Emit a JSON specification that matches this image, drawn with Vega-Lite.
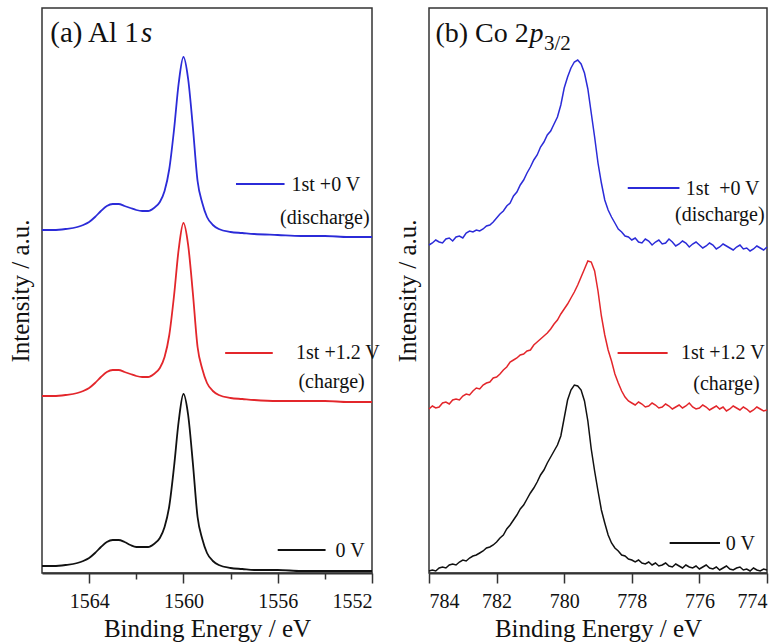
{
  "$schema": "https://vega.github.io/schema/vega-lite/v6.json",
  "padding": {"left": 7, "top": 7, "right": 2, "bottom": 2},
  "background": "white",
  "config": {
    "font": "Liberation Serif",
    "view": {"stroke": "#333333", "strokeWidth": 1.5},
    "axis": {
      "labelFont": "Liberation Serif", "titleFont": "Liberation Serif",
      "labelFontSize": 20, "titleFontSize": 25, "titleFontWeight": "normal",
      "labelColor": "#111111", "titleColor": "#111111",
      "tickColor": "#333333", "domainColor": "#333333",
      "tickWidth": 1.5, "domainWidth": 2, "grid": false
    }
  },
  "spacing": 57,
  "bounds": "flush",
  "datasets": {
    "al": [
      {"s":"b","e":1566.0,"v":343},{"s":"b","e":1565.5,"v":343},{"s":"b","e":1565.0,"v":344},{"s":"b","e":1564.5,"v":346},{"s":"b","e":1564.25,"v":348},{"s":"b","e":1564.0,"v":351},{"s":"b","e":1563.75,"v":356},{"s":"b","e":1563.5,"v":362},{"s":"b","e":1563.25,"v":367},{"s":"b","e":1563.0,"v":369},{"s":"b","e":1562.75,"v":369},{"s":"b","e":1562.5,"v":367},{"s":"b","e":1562.25,"v":365},{"s":"b","e":1562.0,"v":363},{"s":"b","e":1561.75,"v":362},{"s":"b","e":1561.5,"v":362},{"s":"b","e":1561.25,"v":365},{"s":"b","e":1561.0,"v":371},{"s":"b","e":1560.8,"v":382},{"s":"b","e":1560.6,"v":404},{"s":"b","e":1560.4,"v":443},{"s":"b","e":1560.2,"v":490},{"s":"b","e":1560.0,"v":516},{"s":"b","e":1559.8,"v":494},{"s":"b","e":1559.6,"v":446},{"s":"b","e":1559.4,"v":392},{"s":"b","e":1559.2,"v":370},{"s":"b","e":1559.0,"v":356},{"s":"b","e":1558.75,"v":348},{"s":"b","e":1558.5,"v":344},{"s":"b","e":1558.0,"v":341},{"s":"b","e":1557.5,"v":340},{"s":"b","e":1557.0,"v":339},{"s":"b","e":1556.0,"v":338},{"s":"b","e":1555.0,"v":337},{"s":"b","e":1554.0,"v":337},{"s":"b","e":1553.0,"v":336},{"s":"b","e":1552.0,"v":336},
      {"s":"r","e":1566.0,"v":177},{"s":"r","e":1565.5,"v":177},{"s":"r","e":1565.0,"v":178},{"s":"r","e":1564.5,"v":180},{"s":"r","e":1564.25,"v":182},{"s":"r","e":1564.0,"v":185},{"s":"r","e":1563.75,"v":190},{"s":"r","e":1563.5,"v":196},{"s":"r","e":1563.25,"v":201},{"s":"r","e":1563.0,"v":203},{"s":"r","e":1562.75,"v":203},{"s":"r","e":1562.5,"v":201},{"s":"r","e":1562.25,"v":199},{"s":"r","e":1562.0,"v":197},{"s":"r","e":1561.75,"v":196},{"s":"r","e":1561.5,"v":196},{"s":"r","e":1561.25,"v":199},{"s":"r","e":1561.0,"v":205},{"s":"r","e":1560.8,"v":216},{"s":"r","e":1560.6,"v":238},{"s":"r","e":1560.4,"v":277},{"s":"r","e":1560.2,"v":324},{"s":"r","e":1560.0,"v":350},{"s":"r","e":1559.8,"v":328},{"s":"r","e":1559.6,"v":280},{"s":"r","e":1559.4,"v":226},{"s":"r","e":1559.2,"v":204},{"s":"r","e":1559.0,"v":190},{"s":"r","e":1558.75,"v":182},{"s":"r","e":1558.5,"v":178},{"s":"r","e":1558.0,"v":175},{"s":"r","e":1557.5,"v":174},{"s":"r","e":1557.0,"v":173},{"s":"r","e":1556.0,"v":172},{"s":"r","e":1555.0,"v":172},{"s":"r","e":1554.0,"v":172},{"s":"r","e":1553.0,"v":171},{"s":"r","e":1552.0,"v":171},
      {"s":"k","e":1566.0,"v":7},{"s":"k","e":1565.5,"v":7},{"s":"k","e":1565.0,"v":8},{"s":"k","e":1564.5,"v":10},{"s":"k","e":1564.25,"v":12},{"s":"k","e":1564.0,"v":15},{"s":"k","e":1563.75,"v":20},{"s":"k","e":1563.5,"v":26},{"s":"k","e":1563.25,"v":31},{"s":"k","e":1563.0,"v":33},{"s":"k","e":1562.75,"v":33},{"s":"k","e":1562.5,"v":31},{"s":"k","e":1562.25,"v":28},{"s":"k","e":1562.0,"v":26},{"s":"k","e":1561.75,"v":26},{"s":"k","e":1561.5,"v":26},{"s":"k","e":1561.25,"v":29},{"s":"k","e":1561.0,"v":35},{"s":"k","e":1560.8,"v":46},{"s":"k","e":1560.6,"v":67},{"s":"k","e":1560.4,"v":106},{"s":"k","e":1560.2,"v":152},{"s":"k","e":1560.0,"v":179},{"s":"k","e":1559.8,"v":158},{"s":"k","e":1559.6,"v":110},{"s":"k","e":1559.4,"v":56},{"s":"k","e":1559.2,"v":34},{"s":"k","e":1559.0,"v":20},{"s":"k","e":1558.75,"v":12},{"s":"k","e":1558.5,"v":8},{"s":"k","e":1558.0,"v":5},{"s":"k","e":1557.5,"v":4},{"s":"k","e":1557.0,"v":3},{"s":"k","e":1556.0,"v":3},{"s":"k","e":1555.0,"v":2},{"s":"k","e":1554.0,"v":2},{"s":"k","e":1553.0,"v":2},{"s":"k","e":1552.0,"v":2}
    ],
    "co": [
      {"s":"b","e":784.0,"v":328},{"s":"b","e":783.9,"v":330},{"s":"b","e":783.8,"v":333},{"s":"b","e":783.7,"v":331},{"s":"b","e":783.6,"v":330},{"s":"b","e":783.5,"v":334},{"s":"b","e":783.4,"v":335},{"s":"b","e":783.3,"v":332},{"s":"b","e":783.2,"v":336},{"s":"b","e":783.1,"v":337},{"s":"b","e":783.0,"v":335},{"s":"b","e":782.9,"v":340},{"s":"b","e":782.8,"v":342},{"s":"b","e":782.7,"v":341},{"s":"b","e":782.6,"v":343},{"s":"b","e":782.5,"v":342},{"s":"b","e":782.4,"v":344},{"s":"b","e":782.3,"v":347},{"s":"b","e":782.2,"v":348},{"s":"b","e":782.1,"v":351},{"s":"b","e":782.0,"v":355},{"s":"b","e":781.9,"v":359},{"s":"b","e":781.8,"v":362},{"s":"b","e":781.7,"v":367},{"s":"b","e":781.6,"v":370},{"s":"b","e":781.5,"v":377},{"s":"b","e":781.4,"v":381},{"s":"b","e":781.3,"v":388},{"s":"b","e":781.2,"v":393},{"s":"b","e":781.1,"v":400},{"s":"b","e":781.0,"v":406},{"s":"b","e":780.9,"v":413},{"s":"b","e":780.8,"v":418},{"s":"b","e":780.7,"v":426},{"s":"b","e":780.6,"v":431},{"s":"b","e":780.5,"v":438},{"s":"b","e":780.4,"v":442},{"s":"b","e":780.3,"v":449},{"s":"b","e":780.2,"v":456},{"s":"b","e":780.1,"v":468},{"s":"b","e":780.0,"v":485},{"s":"b","e":779.9,"v":496},{"s":"b","e":779.8,"v":505},{"s":"b","e":779.7,"v":511},{"s":"b","e":779.6,"v":513},{"s":"b","e":779.5,"v":509},{"s":"b","e":779.4,"v":500},{"s":"b","e":779.3,"v":484},{"s":"b","e":779.2,"v":460},{"s":"b","e":779.1,"v":436},{"s":"b","e":779.0,"v":410},{"s":"b","e":778.9,"v":390},{"s":"b","e":778.8,"v":373},{"s":"b","e":778.7,"v":363},{"s":"b","e":778.6,"v":356},{"s":"b","e":778.5,"v":350},{"s":"b","e":778.4,"v":344},{"s":"b","e":778.3,"v":341},{"s":"b","e":778.2,"v":337},{"s":"b","e":778.1,"v":336},{"s":"b","e":778.0,"v":333},{"s":"b","e":777.9,"v":335},{"s":"b","e":777.8,"v":331},{"s":"b","e":777.7,"v":330},{"s":"b","e":777.6,"v":334},{"s":"b","e":777.5,"v":332},{"s":"b","e":777.4,"v":328},{"s":"b","e":777.3,"v":331},{"s":"b","e":777.2,"v":333},{"s":"b","e":777.1,"v":329},{"s":"b","e":777.0,"v":330},{"s":"b","e":776.9,"v":334},{"s":"b","e":776.8,"v":331},{"s":"b","e":776.7,"v":327},{"s":"b","e":776.6,"v":329},{"s":"b","e":776.5,"v":332},{"s":"b","e":776.4,"v":330},{"s":"b","e":776.3,"v":326},{"s":"b","e":776.2,"v":329},{"s":"b","e":776.1,"v":331},{"s":"b","e":776.0,"v":328},{"s":"b","e":775.9,"v":325},{"s":"b","e":775.8,"v":327},{"s":"b","e":775.7,"v":330},{"s":"b","e":775.6,"v":328},{"s":"b","e":775.5,"v":324},{"s":"b","e":775.4,"v":326},{"s":"b","e":775.3,"v":329},{"s":"b","e":775.2,"v":327},{"s":"b","e":775.1,"v":325},{"s":"b","e":775.0,"v":323},{"s":"b","e":774.9,"v":326},{"s":"b","e":774.8,"v":328},{"s":"b","e":774.7,"v":324},{"s":"b","e":774.6,"v":325},{"s":"b","e":774.5,"v":322},{"s":"b","e":774.4,"v":324},{"s":"b","e":774.3,"v":327},{"s":"b","e":774.2,"v":325},{"s":"b","e":774.1,"v":323},{"s":"b","e":774.0,"v":326},
      {"s":"r","e":784.0,"v":164},{"s":"r","e":783.9,"v":167},{"s":"r","e":783.8,"v":165},{"s":"r","e":783.7,"v":166},{"s":"r","e":783.6,"v":170},{"s":"r","e":783.5,"v":171},{"s":"r","e":783.4,"v":169},{"s":"r","e":783.3,"v":173},{"s":"r","e":783.2,"v":174},{"s":"r","e":783.1,"v":173},{"s":"r","e":783.0,"v":177},{"s":"r","e":782.9,"v":179},{"s":"r","e":782.8,"v":178},{"s":"r","e":782.7,"v":182},{"s":"r","e":782.6,"v":185},{"s":"r","e":782.5,"v":184},{"s":"r","e":782.4,"v":188},{"s":"r","e":782.3,"v":190},{"s":"r","e":782.2,"v":191},{"s":"r","e":782.1,"v":195},{"s":"r","e":782.0,"v":196},{"s":"r","e":781.9,"v":199},{"s":"r","e":781.8,"v":203},{"s":"r","e":781.7,"v":206},{"s":"r","e":781.6,"v":211},{"s":"r","e":781.5,"v":213},{"s":"r","e":781.4,"v":215},{"s":"r","e":781.3,"v":218},{"s":"r","e":781.2,"v":219},{"s":"r","e":781.1,"v":222},{"s":"r","e":781.0,"v":223},{"s":"r","e":780.9,"v":228},{"s":"r","e":780.8,"v":231},{"s":"r","e":780.7,"v":234},{"s":"r","e":780.6,"v":237},{"s":"r","e":780.5,"v":240},{"s":"r","e":780.4,"v":244},{"s":"r","e":780.3,"v":249},{"s":"r","e":780.2,"v":253},{"s":"r","e":780.1,"v":259},{"s":"r","e":780.0,"v":264},{"s":"r","e":779.9,"v":269},{"s":"r","e":779.8,"v":275},{"s":"r","e":779.7,"v":281},{"s":"r","e":779.6,"v":288},{"s":"r","e":779.5,"v":296},{"s":"r","e":779.4,"v":304},{"s":"r","e":779.3,"v":312},{"s":"r","e":779.2,"v":311},{"s":"r","e":779.1,"v":302},{"s":"r","e":779.0,"v":282},{"s":"r","e":778.9,"v":257},{"s":"r","e":778.8,"v":238},{"s":"r","e":778.7,"v":223},{"s":"r","e":778.6,"v":212},{"s":"r","e":778.5,"v":199},{"s":"r","e":778.4,"v":190},{"s":"r","e":778.3,"v":182},{"s":"r","e":778.2,"v":176},{"s":"r","e":778.1,"v":172},{"s":"r","e":778.0,"v":170},{"s":"r","e":777.9,"v":168},{"s":"r","e":777.8,"v":171},{"s":"r","e":777.7,"v":169},{"s":"r","e":777.6,"v":166},{"s":"r","e":777.5,"v":167},{"s":"r","e":777.4,"v":170},{"s":"r","e":777.3,"v":168},{"s":"r","e":777.2,"v":165},{"s":"r","e":777.1,"v":166},{"s":"r","e":777.0,"v":169},{"s":"r","e":776.9,"v":167},{"s":"r","e":776.8,"v":164},{"s":"r","e":776.7,"v":166},{"s":"r","e":776.6,"v":168},{"s":"r","e":776.5,"v":165},{"s":"r","e":776.4,"v":167},{"s":"r","e":776.3,"v":170},{"s":"r","e":776.2,"v":166},{"s":"r","e":776.1,"v":164},{"s":"r","e":776.0,"v":165},{"s":"r","e":775.9,"v":168},{"s":"r","e":775.8,"v":166},{"s":"r","e":775.7,"v":163},{"s":"r","e":775.6,"v":165},{"s":"r","e":775.5,"v":167},{"s":"r","e":775.4,"v":164},{"s":"r","e":775.3,"v":166},{"s":"r","e":775.2,"v":162},{"s":"r","e":775.1,"v":164},{"s":"r","e":775.0,"v":167},{"s":"r","e":774.9,"v":165},{"s":"r","e":774.8,"v":163},{"s":"r","e":774.7,"v":166},{"s":"r","e":774.6,"v":164},{"s":"r","e":774.5,"v":161},{"s":"r","e":774.4,"v":163},{"s":"r","e":774.3,"v":166},{"s":"r","e":774.2,"v":164},{"s":"r","e":774.1,"v":162},{"s":"r","e":774.0,"v":163},
      {"s":"k","e":784.0,"v":2},{"s":"k","e":783.9,"v":3},{"s":"k","e":783.8,"v":2},{"s":"k","e":783.7,"v":5},{"s":"k","e":783.6,"v":6},{"s":"k","e":783.5,"v":5},{"s":"k","e":783.4,"v":8},{"s":"k","e":783.3,"v":9},{"s":"k","e":783.2,"v":8},{"s":"k","e":783.1,"v":11},{"s":"k","e":783.0,"v":13},{"s":"k","e":782.9,"v":12},{"s":"k","e":782.8,"v":15},{"s":"k","e":782.7,"v":17},{"s":"k","e":782.6,"v":18},{"s":"k","e":782.5,"v":20},{"s":"k","e":782.4,"v":22},{"s":"k","e":782.3,"v":25},{"s":"k","e":782.2,"v":26},{"s":"k","e":782.1,"v":28},{"s":"k","e":782.0,"v":31},{"s":"k","e":781.9,"v":35},{"s":"k","e":781.8,"v":38},{"s":"k","e":781.7,"v":44},{"s":"k","e":781.6,"v":48},{"s":"k","e":781.5,"v":53},{"s":"k","e":781.4,"v":58},{"s":"k","e":781.3,"v":64},{"s":"k","e":781.2,"v":68},{"s":"k","e":781.1,"v":74},{"s":"k","e":781.0,"v":80},{"s":"k","e":780.9,"v":85},{"s":"k","e":780.8,"v":91},{"s":"k","e":780.7,"v":98},{"s":"k","e":780.6,"v":103},{"s":"k","e":780.5,"v":110},{"s":"k","e":780.4,"v":116},{"s":"k","e":780.3,"v":122},{"s":"k","e":780.2,"v":128},{"s":"k","e":780.1,"v":137},{"s":"k","e":780.0,"v":155},{"s":"k","e":779.9,"v":173},{"s":"k","e":779.8,"v":183},{"s":"k","e":779.7,"v":188},{"s":"k","e":779.6,"v":187},{"s":"k","e":779.5,"v":183},{"s":"k","e":779.4,"v":172},{"s":"k","e":779.3,"v":152},{"s":"k","e":779.2,"v":124},{"s":"k","e":779.1,"v":102},{"s":"k","e":779.0,"v":82},{"s":"k","e":778.9,"v":63},{"s":"k","e":778.8,"v":50},{"s":"k","e":778.7,"v":38},{"s":"k","e":778.6,"v":30},{"s":"k","e":778.5,"v":25},{"s":"k","e":778.4,"v":22},{"s":"k","e":778.3,"v":18},{"s":"k","e":778.2,"v":17},{"s":"k","e":778.1,"v":14},{"s":"k","e":778.0,"v":13},{"s":"k","e":777.9,"v":11},{"s":"k","e":777.8,"v":13},{"s":"k","e":777.7,"v":10},{"s":"k","e":777.6,"v":9},{"s":"k","e":777.5,"v":11},{"s":"k","e":777.4,"v":8},{"s":"k","e":777.3,"v":10},{"s":"k","e":777.2,"v":7},{"s":"k","e":777.1,"v":8},{"s":"k","e":777.0,"v":10},{"s":"k","e":776.9,"v":7},{"s":"k","e":776.8,"v":6},{"s":"k","e":776.7,"v":9},{"s":"k","e":776.6,"v":7},{"s":"k","e":776.5,"v":5},{"s":"k","e":776.4,"v":8},{"s":"k","e":776.3,"v":6},{"s":"k","e":776.2,"v":5},{"s":"k","e":776.1,"v":7},{"s":"k","e":776.0,"v":4},{"s":"k","e":775.9,"v":6},{"s":"k","e":775.8,"v":8},{"s":"k","e":775.7,"v":5},{"s":"k","e":775.6,"v":4},{"s":"k","e":775.5,"v":6},{"s":"k","e":775.4,"v":3},{"s":"k","e":775.3,"v":5},{"s":"k","e":775.2,"v":7},{"s":"k","e":775.1,"v":4},{"s":"k","e":775.0,"v":3},{"s":"k","e":774.9,"v":5},{"s":"k","e":774.8,"v":6},{"s":"k","e":774.7,"v":3},{"s":"k","e":774.6,"v":4},{"s":"k","e":774.5,"v":2},{"s":"k","e":774.4,"v":5},{"s":"k","e":774.3,"v":3},{"s":"k","e":774.2,"v":2},{"s":"k","e":774.1,"v":4},{"s":"k","e":774.0,"v":3}
    ]
  },
  "hconcat": [
    {
      "width": 330, "height": 565,
      "layer": [
        {
          "data": {"name": "al"},
          "mark": {"type": "line", "strokeWidth": 1.8, "interpolate": "monotone"},
          "encoding": {
            "x": {"field": "e", "type": "quantitative", "scale": {"domain": [1566, 1552], "nice": false},
              "axis": {"title": "Binding Energy / eV", "values": [1564, 1562, 1560, 1558, 1556, 1554, 1552], "format": "d",
                "labelExpr": "datum.value % 4 === 0 ? datum.label : ''",
                "tickSize": {"condition": {"test": "datum.value % 4 === 0", "value": 10}, "value": 6},
                "labelPadding": 8, "titlePadding": 5}},
            "y": {"field": "v", "type": "quantitative", "scale": {"domain": [0, 565], "nice": false},
              "axis": {"title": "Intensity / a.u.", "ticks": false, "labels": false, "domain": false, "titlePadding": 9}},
            "color": {"field": "s", "type": "nominal", "scale": {"domain": ["b", "r", "k"], "range": ["#2b2bd8", "#e3262b", "#111111"]}, "legend": null}
          }
        },
        {
          "data": {"values": [
            {"s": "b", "e1": 1557.77, "e2": 1555.71, "v": 389},
            {"s": "r", "e1": 1558.23, "e2": 1556.21, "v": 220},
            {"s": "k", "e1": 1556.0, "e2": 1553.97, "v": 23}
          ]},
          "mark": {"type": "rule", "strokeWidth": 1.8},
          "encoding": {
            "x": {"field": "e1", "type": "quantitative"},
            "x2": {"field": "e2"},
            "y": {"field": "v", "type": "quantitative"},
            "color": {"field": "s", "type": "nominal", "legend": null}
          }
        },
        {
          "data": {"values": [
            {"t": "1st +0 V", "e": 1552.5, "v": 388},
            {"t": "(discharge)", "e": 1552.1, "v": 355},
            {"t": "1st +1.2 V", "e": 1551.67, "v": 220},
            {"t": "(charge)", "e": 1552.31, "v": 191},
            {"t": "0 V", "e": 1552.31, "v": 22}
          ]},
          "mark": {"type": "text", "align": "right", "baseline": "middle", "fontSize": 20, "color": "#111111", "font": "Liberation Serif"},
          "encoding": {
            "x": {"field": "e", "type": "quantitative"},
            "y": {"field": "v", "type": "quantitative"},
            "text": {"field": "t"}
          }
        },
        {
          "data": {"values": [{"t": "(a) Al 1", "e": 1565.65, "v": 531}]},
          "mark": {"type": "text", "align": "left", "baseline": "alphabetic", "fontSize": 29, "color": "#111111", "font": "Liberation Serif"},
          "encoding": {"x": {"field": "e", "type": "quantitative"}, "y": {"field": "v", "type": "quantitative"}, "text": {"field": "t"}}
        },
        {
          "data": {"values": [{"t": "s", "e": 1561.8, "v": 531}]},
          "mark": {"type": "text", "align": "left", "baseline": "alphabetic", "fontSize": 29, "fontStyle": "italic", "color": "#111111", "font": "Liberation Serif"},
          "encoding": {"x": {"field": "e", "type": "quantitative"}, "y": {"field": "v", "type": "quantitative"}, "text": {"field": "t"}}
        }
      ]
    },
    {
      "width": 338, "height": 565,
      "layer": [
        {
          "data": {"name": "co"},
          "mark": {"type": "line", "strokeWidth": 1.5, "interpolate": "linear"},
          "encoding": {
            "x": {"field": "e", "type": "quantitative", "scale": {"domain": [784, 774], "nice": false},
              "axis": {"title": "Binding Energy / eV", "values": [784, 783, 782, 781, 780, 779, 778, 777, 776, 775, 774], "format": "d",
                "labelExpr": "datum.value % 2 === 0 ? datum.label : ''",
                "tickSize": {"condition": {"test": "datum.value % 2 === 0", "value": 10}, "value": 6},
                "labelPadding": 8, "titlePadding": 5}},
            "y": {"field": "v", "type": "quantitative", "scale": {"domain": [0, 565], "nice": false},
              "axis": {"title": "Intensity / a.u.", "ticks": false, "labels": false, "domain": false, "titlePadding": 9}},
            "color": {"field": "s", "type": "nominal", "scale": {"domain": ["b", "r", "k"], "range": ["#2b2bd8", "#e3262b", "#111111"]}, "legend": null}
          }
        },
        {
          "data": {"values": [
            {"s": "b", "e1": 778.12, "e2": 776.59, "v": 385},
            {"s": "r", "e1": 778.42, "e2": 776.94, "v": 220},
            {"s": "k", "e1": 776.88, "e2": 775.39, "v": 30}
          ]},
          "mark": {"type": "rule", "strokeWidth": 1.8},
          "encoding": {
            "x": {"field": "e1", "type": "quantitative"},
            "x2": {"field": "e2"},
            "y": {"field": "v", "type": "quantitative"},
            "color": {"field": "s", "type": "nominal", "legend": null}
          }
        },
        {
          "data": {"values": [
            {"t": "1st \u00a0+0 V", "e": 774.22, "v": 384},
            {"t": "(discharge)", "e": 774.07, "v": 358},
            {"t": "1st +1.2 V", "e": 774.07, "v": 220},
            {"t": "(charge)", "e": 774.22, "v": 189},
            {"t": "0 V", "e": 774.36, "v": 29}
          ]},
          "mark": {"type": "text", "align": "right", "baseline": "middle", "fontSize": 20, "color": "#111111", "font": "Liberation Serif"},
          "encoding": {
            "x": {"field": "e", "type": "quantitative"},
            "y": {"field": "v", "type": "quantitative"},
            "text": {"field": "t"}
          }
        },
        {
          "data": {"values": [{"t": "(b) Co 2", "e": 783.81, "v": 531}]},
          "mark": {"type": "text", "align": "left", "baseline": "alphabetic", "fontSize": 28, "color": "#111111", "font": "Liberation Serif"},
          "encoding": {"x": {"field": "e", "type": "quantitative"}, "y": {"field": "v", "type": "quantitative"}, "text": {"field": "t"}}
        },
        {
          "data": {"values": [{"t": "p", "e": 781.03, "v": 531}]},
          "mark": {"type": "text", "align": "left", "baseline": "alphabetic", "fontSize": 28, "fontStyle": "italic", "color": "#111111", "font": "Liberation Serif"},
          "encoding": {"x": {"field": "e", "type": "quantitative"}, "y": {"field": "v", "type": "quantitative"}, "text": {"field": "t"}}
        },
        {
          "data": {"values": [{"t": "3/2", "e": 780.6, "v": 523}]},
          "mark": {"type": "text", "align": "left", "baseline": "alphabetic", "fontSize": 21, "color": "#111111", "font": "Liberation Serif"},
          "encoding": {"x": {"field": "e", "type": "quantitative"}, "y": {"field": "v", "type": "quantitative"}, "text": {"field": "t"}}
        }
      ]
    }
  ]
}
